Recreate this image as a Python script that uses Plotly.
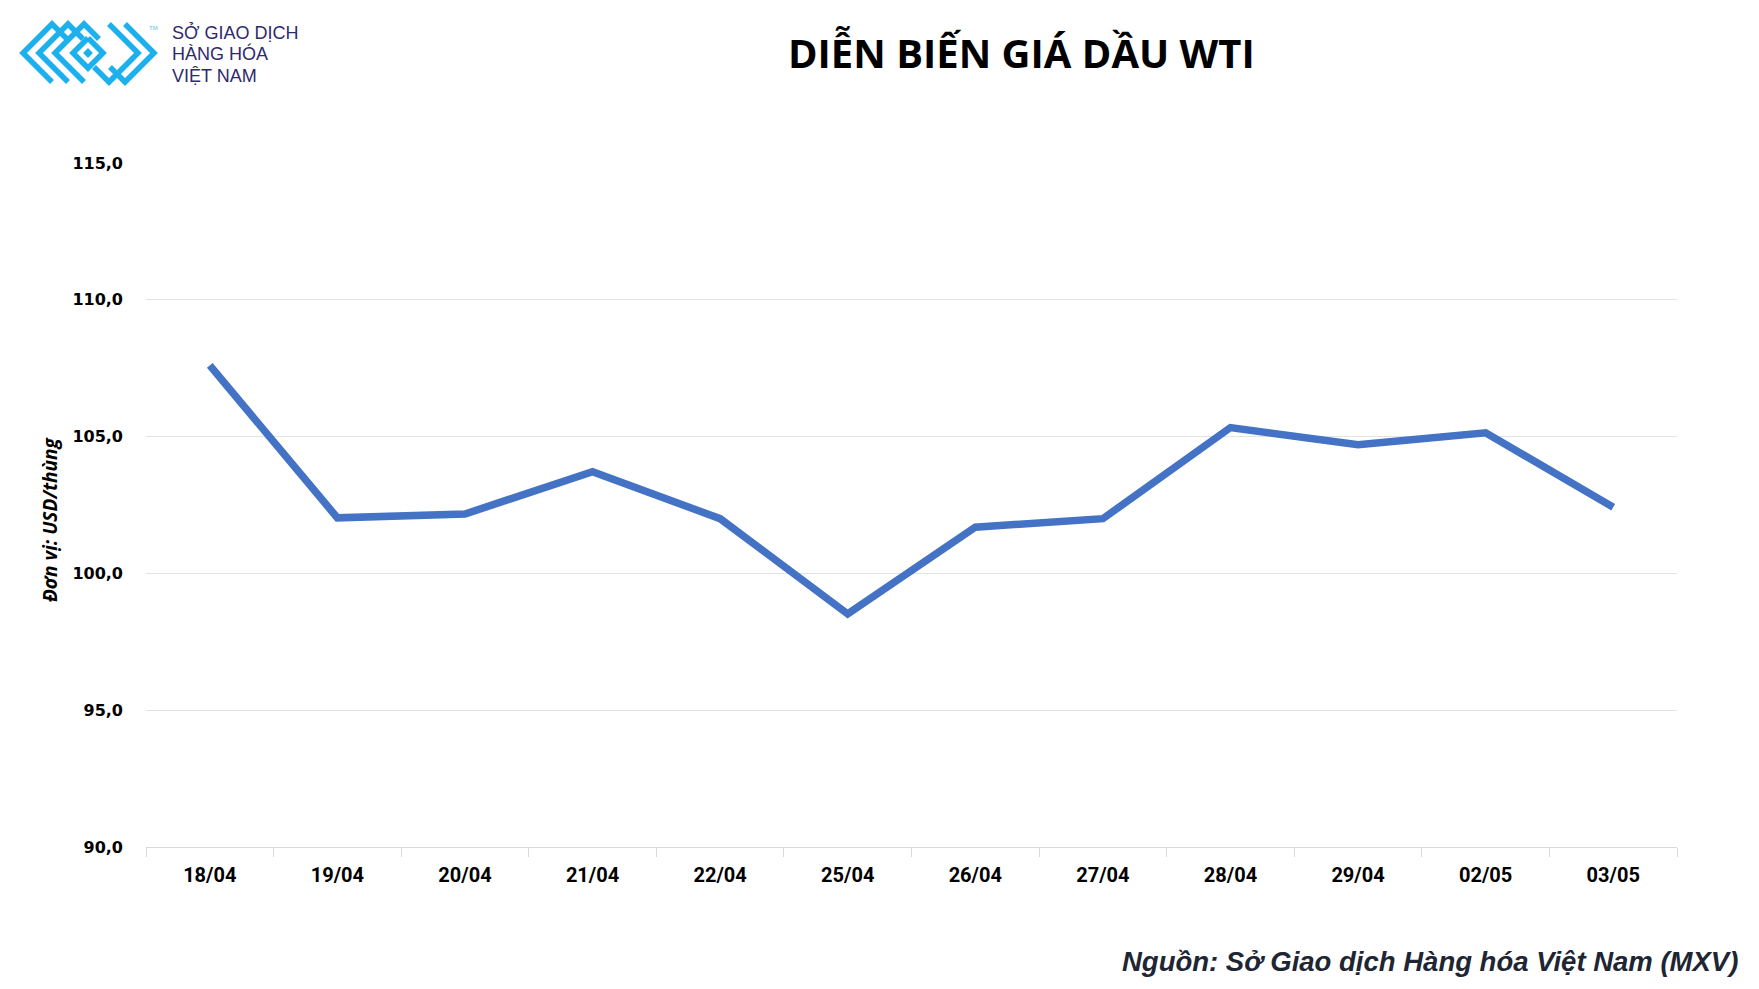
import plotly.graph_objects as go

# ---- data ----
dates = ["18/04", "19/04", "20/04", "21/04", "22/04", "25/04",
         "26/04", "27/04", "28/04", "29/04", "02/05", "03/05"]
wti_price = [107.6, 102.03, 102.17, 103.72, 102.0, 98.52,
             101.69, 102.0, 105.33, 104.7, 105.14, 102.42]
y_ticks = [90, 95, 100, 105, 110, 115]

W, H = 1759, 989
OFF = 8  # page offset of the plot div
PL, PR, PT, PB = 146, 1677, 163, 847  # plot area in page pixels
L, R, T, B = PL - OFF, W + OFF - PR, PT - OFF, H + OFF - PB
PW, PH = PR - PL, PB - PT


def px(x):
    return (x - PL) / PW


def py(y):
    return (PB - y) / PH


fig = go.Figure()
fig.add_trace(go.Scatter(
    x=dates, y=wti_price, mode="lines",
    line=dict(color="#4472C4", width=7.5),
    hoverinfo="x+y", showlegend=False,
))

fig.update_layout(
    width=W, height=H,
    margin=dict(l=L, r=R, t=T, b=B),
    paper_bgcolor="white", plot_bgcolor="white",
    separators=",.",
    xaxis=dict(
        type="category", range=[-0.5, len(dates) - 0.5],
        showgrid=False, showline=True, linecolor="#d9d9d9", linewidth=1,
        ticks="outside", tickson="boundaries", ticklen=9, tickcolor="#d9d9d9",
        tickfont=dict(family="Roboto", size=20, color="#000000", weight="bold"),
        ticklabelstandoff=10,
    ),
    yaxis=dict(
        range=[90, 115], tickvals=y_ticks, tickformat=".1f",
        showgrid=True, gridcolor="#e3e3e3", gridwidth=1,
        zeroline=False, showline=False,
        tickfont=dict(family="DejaVu Sans", size=16, color="#000000", weight="bold"),
        ticklabelstandoff=22,
    ),
)

annotations = [
    dict(text="<b>DIỄN BIẾN GIÁ DẦU WTI</b>", x=px(1021), y=py(52),
         xref="paper", yref="paper", showarrow=False, xanchor="center", yanchor="middle",
         font=dict(family="Open Sans", size=40, color="#000000")),
    dict(text="<b><i>Đơn vị: USD/thùng</i></b>", x=px(50), y=py(520),
         xref="paper", yref="paper", showarrow=False, textangle=-90,
         xanchor="center", yanchor="middle",
         font=dict(family="Open Sans", size=19, color="#000000")),
    dict(text="<b><i>Nguồn: Sở Giao dịch Hàng hóa Việt Nam (MXV)</i></b>", x=px(1740), y=py(962),
         xref="paper", yref="paper", showarrow=False, xanchor="right", yanchor="middle",
         font=dict(family="Liberation Sans", size=27.5, color="#1e2533")),
    dict(text="TM", x=px(153), y=py(28),
         xref="paper", yref="paper", showarrow=False, xanchor="center", yanchor="middle",
         font=dict(family="Liberation Sans", size=6, color="#5bbfe8")),
]
for i, line in enumerate(["SỞ GIAO DỊCH", "HÀNG HÓA", "VIỆT NAM"]):
    annotations.append(dict(text=line, x=px(170), y=py(32 + 22 * i),
                            xref="paper", yref="paper", showarrow=False,
                            xanchor="left", yanchor="middle",
                            font=dict(family="Liberation Sans", size=18, color="#2e2a6b")))
fig.update_layout(annotations=annotations)

# ---- logo icon (approximate) ----
cyan = "#1cb0ec"


def path(points):
    s = "M {} {}".format(px(points[0][0]), py(points[0][1]))
    for (a, b) in points[1:]:
        s += " L {} {}".format(px(a), py(b))
    return s


cy, h = 53, 29
shapes = []
for tip in (23, 39, 55):
    shapes.append([(tip + h + 15, cy - h + 15), (tip + h, cy - h), (tip, cy), (tip + h, cy + h)])
for tip in (154, 138):
    shapes.append([(tip - h, cy - h), (tip, cy), (tip - h, cy + h), (tip - h - 15, cy + h - 15)])
r, cx = 15, 88
shapes.append([(cx, cy - r), (cx + r, cy), (cx, cy + r), (cx - r, cy), (cx, cy - r)])

sh = []
for pts in shapes:
    sh.append(dict(type="path", xref="paper", yref="paper", path=path(pts),
                   line=dict(color=cyan, width=5.5), layer="above"))
rr = 3.5
sh.append(dict(type="path", xref="paper", yref="paper",
               path=path([(cx, cy - rr), (cx + rr, cy), (cx, cy + rr), (cx - rr, cy)]) + " Z",
               line=dict(color=cyan, width=2), fillcolor=cyan))
fig.update_layout(shapes=sh)

fig.write_html("out.html")
